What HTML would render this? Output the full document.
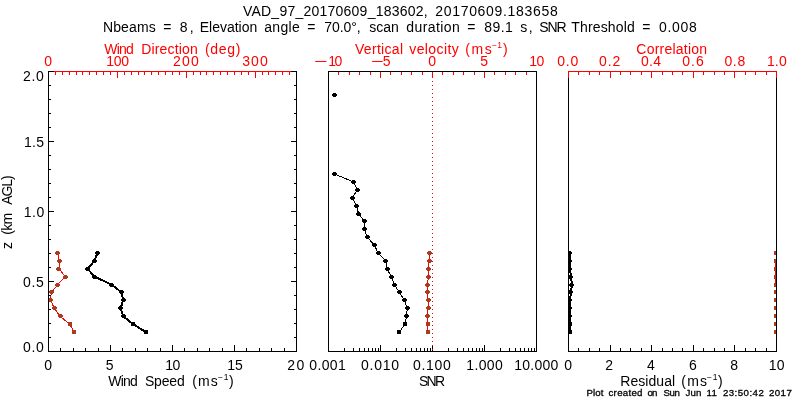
<!DOCTYPE html>
<html><head><meta charset="utf-8"><title>VAD_97_20170609_183602</title>
<style>
html,body{margin:0;padding:0;background:#fff;}
svg{display:block;font-family:"Liberation Sans",sans-serif;}
</style></head><body>
<svg width="800" height="400" viewBox="0 0 800 400" shape-rendering="crispEdges">
<rect x="0" y="0" width="800" height="400" fill="#ffffff"/>
<polyline points="57.50,253.00 59.40,260.90 59.00,268.80 65.40,276.70 57.75,284.60 51.25,292.50 50.60,300.40 54.40,308.30 60.00,316.20 69.75,324.10 74.00,332.00" fill="none" stroke="#ff0000" stroke-width="1" stroke-linejoin="round"/>
<rect x="56" y="251" width="3" height="1" fill="#ab3b1e"/>
<rect x="55" y="252" width="5" height="1" fill="#ab3b1e"/>
<rect x="55" y="253" width="5" height="1" fill="#ab3b1e"/>
<rect x="56" y="254" width="3" height="1" fill="#ab3b1e"/>
<rect x="58" y="259" width="3" height="1" fill="#ab3b1e"/>
<rect x="57" y="260" width="5" height="1" fill="#ab3b1e"/>
<rect x="57" y="261" width="5" height="1" fill="#ab3b1e"/>
<rect x="58" y="262" width="3" height="1" fill="#ab3b1e"/>
<rect x="57" y="267" width="3" height="1" fill="#ab3b1e"/>
<rect x="56" y="268" width="5" height="1" fill="#ab3b1e"/>
<rect x="56" y="269" width="5" height="1" fill="#ab3b1e"/>
<rect x="57" y="270" width="3" height="1" fill="#ab3b1e"/>
<rect x="64" y="275" width="3" height="1" fill="#ab3b1e"/>
<rect x="63" y="276" width="5" height="1" fill="#ab3b1e"/>
<rect x="63" y="277" width="5" height="1" fill="#ab3b1e"/>
<rect x="64" y="278" width="3" height="1" fill="#ab3b1e"/>
<rect x="56" y="283" width="3" height="1" fill="#ab3b1e"/>
<rect x="55" y="284" width="5" height="1" fill="#ab3b1e"/>
<rect x="55" y="285" width="5" height="1" fill="#ab3b1e"/>
<rect x="56" y="286" width="3" height="1" fill="#ab3b1e"/>
<rect x="50" y="290" width="3" height="1" fill="#ab3b1e"/>
<rect x="49" y="291" width="5" height="1" fill="#ab3b1e"/>
<rect x="49" y="292" width="5" height="1" fill="#ab3b1e"/>
<rect x="50" y="293" width="3" height="1" fill="#ab3b1e"/>
<rect x="49" y="298" width="3" height="1" fill="#ab3b1e"/>
<rect x="48" y="299" width="5" height="1" fill="#ab3b1e"/>
<rect x="48" y="300" width="5" height="1" fill="#ab3b1e"/>
<rect x="49" y="301" width="3" height="1" fill="#ab3b1e"/>
<rect x="53" y="306" width="3" height="1" fill="#ab3b1e"/>
<rect x="52" y="307" width="5" height="1" fill="#ab3b1e"/>
<rect x="52" y="308" width="5" height="1" fill="#ab3b1e"/>
<rect x="53" y="309" width="3" height="1" fill="#ab3b1e"/>
<rect x="59" y="314" width="3" height="1" fill="#ab3b1e"/>
<rect x="58" y="315" width="5" height="1" fill="#ab3b1e"/>
<rect x="58" y="316" width="5" height="1" fill="#ab3b1e"/>
<rect x="59" y="317" width="3" height="1" fill="#ab3b1e"/>
<rect x="68" y="322" width="4" height="1" fill="#ab3b1e"/>
<rect x="68" y="323" width="4" height="1" fill="#ab3b1e"/>
<rect x="68" y="324" width="4" height="1" fill="#ab3b1e"/>
<rect x="68" y="325" width="4" height="1" fill="#ab3b1e"/>
<rect x="72" y="330" width="4" height="1" fill="#ab3b1e"/>
<rect x="72" y="331" width="4" height="1" fill="#ab3b1e"/>
<rect x="72" y="332" width="4" height="1" fill="#ab3b1e"/>
<rect x="72" y="333" width="4" height="1" fill="#ab3b1e"/>
<polyline points="97.50,253.00 94.40,260.90 87.50,268.80 94.75,276.70 111.60,284.60 121.70,292.50 123.10,300.40 120.60,308.30 123.10,316.20 133.10,324.10 145.75,332.00" fill="none" stroke="#000000" stroke-width="2" stroke-linejoin="round"/>
<rect x="96" y="251" width="3" height="1" fill="#000000"/>
<rect x="95" y="252" width="5" height="1" fill="#000000"/>
<rect x="95" y="253" width="5" height="1" fill="#000000"/>
<rect x="96" y="254" width="3" height="1" fill="#000000"/>
<rect x="93" y="259" width="3" height="1" fill="#000000"/>
<rect x="92" y="260" width="5" height="1" fill="#000000"/>
<rect x="92" y="261" width="5" height="1" fill="#000000"/>
<rect x="93" y="262" width="3" height="1" fill="#000000"/>
<rect x="86" y="267" width="3" height="1" fill="#000000"/>
<rect x="85" y="268" width="5" height="1" fill="#000000"/>
<rect x="85" y="269" width="5" height="1" fill="#000000"/>
<rect x="86" y="270" width="3" height="1" fill="#000000"/>
<rect x="93" y="275" width="3" height="1" fill="#000000"/>
<rect x="92" y="276" width="5" height="1" fill="#000000"/>
<rect x="92" y="277" width="5" height="1" fill="#000000"/>
<rect x="93" y="278" width="3" height="1" fill="#000000"/>
<rect x="110" y="283" width="3" height="1" fill="#000000"/>
<rect x="109" y="284" width="5" height="1" fill="#000000"/>
<rect x="109" y="285" width="5" height="1" fill="#000000"/>
<rect x="110" y="286" width="3" height="1" fill="#000000"/>
<rect x="120" y="290" width="3" height="1" fill="#000000"/>
<rect x="119" y="291" width="5" height="1" fill="#000000"/>
<rect x="119" y="292" width="5" height="1" fill="#000000"/>
<rect x="120" y="293" width="3" height="1" fill="#000000"/>
<rect x="122" y="298" width="3" height="1" fill="#000000"/>
<rect x="121" y="299" width="5" height="1" fill="#000000"/>
<rect x="121" y="300" width="5" height="1" fill="#000000"/>
<rect x="122" y="301" width="3" height="1" fill="#000000"/>
<rect x="119" y="306" width="3" height="1" fill="#000000"/>
<rect x="118" y="307" width="5" height="1" fill="#000000"/>
<rect x="118" y="308" width="5" height="1" fill="#000000"/>
<rect x="119" y="309" width="3" height="1" fill="#000000"/>
<rect x="122" y="314" width="3" height="1" fill="#000000"/>
<rect x="121" y="315" width="5" height="1" fill="#000000"/>
<rect x="121" y="316" width="5" height="1" fill="#000000"/>
<rect x="122" y="317" width="3" height="1" fill="#000000"/>
<rect x="131" y="322" width="4" height="1" fill="#000000"/>
<rect x="131" y="323" width="4" height="1" fill="#000000"/>
<rect x="131" y="324" width="4" height="1" fill="#000000"/>
<rect x="131" y="325" width="4" height="1" fill="#000000"/>
<rect x="144" y="330" width="4" height="1" fill="#000000"/>
<rect x="144" y="331" width="4" height="1" fill="#000000"/>
<rect x="144" y="332" width="4" height="1" fill="#000000"/>
<rect x="144" y="333" width="4" height="1" fill="#000000"/>
<polyline points="334.60,174.00 353.40,181.90 357.25,189.80 352.50,197.70 356.50,205.60 358.50,213.50 364.40,221.40 364.40,229.30 367.25,237.20 374.40,245.10 378.10,253.00 385.60,260.90 387.10,268.80 391.25,276.70 394.40,284.60 399.40,292.50 404.40,300.40 407.25,308.30 406.50,316.20 405.00,324.10 399.40,332.00" fill="none" stroke="#000000" stroke-width="1" stroke-linejoin="round"/>
<rect x="333" y="172" width="3" height="1" fill="#000000"/>
<rect x="332" y="173" width="5" height="1" fill="#000000"/>
<rect x="332" y="174" width="5" height="1" fill="#000000"/>
<rect x="333" y="175" width="3" height="1" fill="#000000"/>
<rect x="352" y="180" width="3" height="1" fill="#000000"/>
<rect x="351" y="181" width="5" height="1" fill="#000000"/>
<rect x="351" y="182" width="5" height="1" fill="#000000"/>
<rect x="352" y="183" width="3" height="1" fill="#000000"/>
<rect x="356" y="188" width="3" height="1" fill="#000000"/>
<rect x="355" y="189" width="5" height="1" fill="#000000"/>
<rect x="355" y="190" width="5" height="1" fill="#000000"/>
<rect x="356" y="191" width="3" height="1" fill="#000000"/>
<rect x="351" y="196" width="3" height="1" fill="#000000"/>
<rect x="350" y="197" width="5" height="1" fill="#000000"/>
<rect x="350" y="198" width="5" height="1" fill="#000000"/>
<rect x="351" y="199" width="3" height="1" fill="#000000"/>
<rect x="355" y="204" width="3" height="1" fill="#000000"/>
<rect x="354" y="205" width="5" height="1" fill="#000000"/>
<rect x="354" y="206" width="5" height="1" fill="#000000"/>
<rect x="355" y="207" width="3" height="1" fill="#000000"/>
<rect x="357" y="212" width="3" height="1" fill="#000000"/>
<rect x="356" y="213" width="5" height="1" fill="#000000"/>
<rect x="356" y="214" width="5" height="1" fill="#000000"/>
<rect x="357" y="215" width="3" height="1" fill="#000000"/>
<rect x="363" y="219" width="3" height="1" fill="#000000"/>
<rect x="362" y="220" width="5" height="1" fill="#000000"/>
<rect x="362" y="221" width="5" height="1" fill="#000000"/>
<rect x="363" y="222" width="3" height="1" fill="#000000"/>
<rect x="363" y="227" width="3" height="1" fill="#000000"/>
<rect x="362" y="228" width="5" height="1" fill="#000000"/>
<rect x="362" y="229" width="5" height="1" fill="#000000"/>
<rect x="363" y="230" width="3" height="1" fill="#000000"/>
<rect x="366" y="235" width="3" height="1" fill="#000000"/>
<rect x="365" y="236" width="5" height="1" fill="#000000"/>
<rect x="365" y="237" width="5" height="1" fill="#000000"/>
<rect x="366" y="238" width="3" height="1" fill="#000000"/>
<rect x="373" y="243" width="3" height="1" fill="#000000"/>
<rect x="372" y="244" width="5" height="1" fill="#000000"/>
<rect x="372" y="245" width="5" height="1" fill="#000000"/>
<rect x="373" y="246" width="3" height="1" fill="#000000"/>
<rect x="377" y="251" width="3" height="1" fill="#000000"/>
<rect x="376" y="252" width="5" height="1" fill="#000000"/>
<rect x="376" y="253" width="5" height="1" fill="#000000"/>
<rect x="377" y="254" width="3" height="1" fill="#000000"/>
<rect x="384" y="259" width="3" height="1" fill="#000000"/>
<rect x="383" y="260" width="5" height="1" fill="#000000"/>
<rect x="383" y="261" width="5" height="1" fill="#000000"/>
<rect x="384" y="262" width="3" height="1" fill="#000000"/>
<rect x="386" y="267" width="3" height="1" fill="#000000"/>
<rect x="385" y="268" width="5" height="1" fill="#000000"/>
<rect x="385" y="269" width="5" height="1" fill="#000000"/>
<rect x="386" y="270" width="3" height="1" fill="#000000"/>
<rect x="390" y="275" width="3" height="1" fill="#000000"/>
<rect x="389" y="276" width="5" height="1" fill="#000000"/>
<rect x="389" y="277" width="5" height="1" fill="#000000"/>
<rect x="390" y="278" width="3" height="1" fill="#000000"/>
<rect x="393" y="283" width="3" height="1" fill="#000000"/>
<rect x="392" y="284" width="5" height="1" fill="#000000"/>
<rect x="392" y="285" width="5" height="1" fill="#000000"/>
<rect x="393" y="286" width="3" height="1" fill="#000000"/>
<rect x="398" y="290" width="3" height="1" fill="#000000"/>
<rect x="397" y="291" width="5" height="1" fill="#000000"/>
<rect x="397" y="292" width="5" height="1" fill="#000000"/>
<rect x="398" y="293" width="3" height="1" fill="#000000"/>
<rect x="403" y="298" width="3" height="1" fill="#000000"/>
<rect x="402" y="299" width="5" height="1" fill="#000000"/>
<rect x="402" y="300" width="5" height="1" fill="#000000"/>
<rect x="403" y="301" width="3" height="1" fill="#000000"/>
<rect x="406" y="306" width="3" height="1" fill="#000000"/>
<rect x="405" y="307" width="5" height="1" fill="#000000"/>
<rect x="405" y="308" width="5" height="1" fill="#000000"/>
<rect x="406" y="309" width="3" height="1" fill="#000000"/>
<rect x="405" y="314" width="3" height="1" fill="#000000"/>
<rect x="404" y="315" width="5" height="1" fill="#000000"/>
<rect x="404" y="316" width="5" height="1" fill="#000000"/>
<rect x="405" y="317" width="3" height="1" fill="#000000"/>
<rect x="403" y="322" width="4" height="1" fill="#000000"/>
<rect x="403" y="323" width="4" height="1" fill="#000000"/>
<rect x="403" y="324" width="4" height="1" fill="#000000"/>
<rect x="403" y="325" width="4" height="1" fill="#000000"/>
<rect x="397" y="330" width="4" height="1" fill="#000000"/>
<rect x="397" y="331" width="4" height="1" fill="#000000"/>
<rect x="397" y="332" width="4" height="1" fill="#000000"/>
<rect x="397" y="333" width="4" height="1" fill="#000000"/>
<rect x="333" y="93" width="3" height="1" fill="#000000"/>
<rect x="332" y="94" width="5" height="1" fill="#000000"/>
<rect x="332" y="95" width="5" height="1" fill="#000000"/>
<rect x="333" y="96" width="3" height="1" fill="#000000"/>
<polyline points="429.40,253.00 429.10,260.90 428.50,268.80 428.40,276.70 427.50,284.60 427.50,292.50 428.10,300.40 428.10,308.30 427.60,316.20 427.50,324.10 427.50,332.00" fill="none" stroke="#ff0000" stroke-width="1" stroke-linejoin="round"/>
<rect x="428" y="251" width="3" height="1" fill="#ab3b1e"/>
<rect x="427" y="252" width="5" height="1" fill="#ab3b1e"/>
<rect x="427" y="253" width="5" height="1" fill="#ab3b1e"/>
<rect x="428" y="254" width="3" height="1" fill="#ab3b1e"/>
<rect x="428" y="259" width="3" height="1" fill="#ab3b1e"/>
<rect x="427" y="260" width="5" height="1" fill="#ab3b1e"/>
<rect x="427" y="261" width="5" height="1" fill="#ab3b1e"/>
<rect x="428" y="262" width="3" height="1" fill="#ab3b1e"/>
<rect x="427" y="267" width="3" height="1" fill="#ab3b1e"/>
<rect x="426" y="268" width="5" height="1" fill="#ab3b1e"/>
<rect x="426" y="269" width="5" height="1" fill="#ab3b1e"/>
<rect x="427" y="270" width="3" height="1" fill="#ab3b1e"/>
<rect x="427" y="275" width="3" height="1" fill="#ab3b1e"/>
<rect x="426" y="276" width="5" height="1" fill="#ab3b1e"/>
<rect x="426" y="277" width="5" height="1" fill="#ab3b1e"/>
<rect x="427" y="278" width="3" height="1" fill="#ab3b1e"/>
<rect x="426" y="283" width="3" height="1" fill="#ab3b1e"/>
<rect x="425" y="284" width="5" height="1" fill="#ab3b1e"/>
<rect x="425" y="285" width="5" height="1" fill="#ab3b1e"/>
<rect x="426" y="286" width="3" height="1" fill="#ab3b1e"/>
<rect x="426" y="290" width="3" height="1" fill="#ab3b1e"/>
<rect x="425" y="291" width="5" height="1" fill="#ab3b1e"/>
<rect x="425" y="292" width="5" height="1" fill="#ab3b1e"/>
<rect x="426" y="293" width="3" height="1" fill="#ab3b1e"/>
<rect x="427" y="298" width="3" height="1" fill="#ab3b1e"/>
<rect x="426" y="299" width="5" height="1" fill="#ab3b1e"/>
<rect x="426" y="300" width="5" height="1" fill="#ab3b1e"/>
<rect x="427" y="301" width="3" height="1" fill="#ab3b1e"/>
<rect x="427" y="306" width="3" height="1" fill="#ab3b1e"/>
<rect x="426" y="307" width="5" height="1" fill="#ab3b1e"/>
<rect x="426" y="308" width="5" height="1" fill="#ab3b1e"/>
<rect x="427" y="309" width="3" height="1" fill="#ab3b1e"/>
<rect x="426" y="314" width="3" height="1" fill="#ab3b1e"/>
<rect x="425" y="315" width="5" height="1" fill="#ab3b1e"/>
<rect x="425" y="316" width="5" height="1" fill="#ab3b1e"/>
<rect x="426" y="317" width="3" height="1" fill="#ab3b1e"/>
<rect x="426" y="322" width="4" height="1" fill="#ab3b1e"/>
<rect x="426" y="323" width="4" height="1" fill="#ab3b1e"/>
<rect x="426" y="324" width="4" height="1" fill="#ab3b1e"/>
<rect x="426" y="325" width="4" height="1" fill="#ab3b1e"/>
<rect x="426" y="330" width="4" height="1" fill="#ab3b1e"/>
<rect x="426" y="331" width="4" height="1" fill="#ab3b1e"/>
<rect x="426" y="332" width="4" height="1" fill="#ab3b1e"/>
<rect x="426" y="333" width="4" height="1" fill="#ab3b1e"/>
<polyline points="570.00,253.00 570.00,260.90 570.00,268.80 571.00,276.70 572.00,284.60 571.00,292.50 570.00,300.40 570.00,308.30 570.00,316.20 570.00,324.10 570.00,332.00" fill="none" stroke="#000000" stroke-width="2" stroke-linejoin="round"/>
<rect x="568" y="251" width="3" height="1" fill="#000000"/>
<rect x="568" y="252" width="4" height="1" fill="#000000"/>
<rect x="568" y="253" width="4" height="1" fill="#000000"/>
<rect x="568" y="254" width="3" height="1" fill="#000000"/>
<rect x="568" y="259" width="3" height="1" fill="#000000"/>
<rect x="568" y="260" width="4" height="1" fill="#000000"/>
<rect x="568" y="261" width="4" height="1" fill="#000000"/>
<rect x="568" y="262" width="3" height="1" fill="#000000"/>
<rect x="568" y="267" width="3" height="1" fill="#000000"/>
<rect x="568" y="268" width="4" height="1" fill="#000000"/>
<rect x="568" y="269" width="4" height="1" fill="#000000"/>
<rect x="568" y="270" width="3" height="1" fill="#000000"/>
<rect x="569" y="275" width="3" height="1" fill="#000000"/>
<rect x="568" y="276" width="5" height="1" fill="#000000"/>
<rect x="568" y="277" width="5" height="1" fill="#000000"/>
<rect x="569" y="278" width="3" height="1" fill="#000000"/>
<rect x="570" y="283" width="3" height="1" fill="#000000"/>
<rect x="569" y="284" width="5" height="1" fill="#000000"/>
<rect x="569" y="285" width="5" height="1" fill="#000000"/>
<rect x="570" y="286" width="3" height="1" fill="#000000"/>
<rect x="569" y="290" width="3" height="1" fill="#000000"/>
<rect x="568" y="291" width="5" height="1" fill="#000000"/>
<rect x="568" y="292" width="5" height="1" fill="#000000"/>
<rect x="569" y="293" width="3" height="1" fill="#000000"/>
<rect x="568" y="298" width="3" height="1" fill="#000000"/>
<rect x="568" y="299" width="4" height="1" fill="#000000"/>
<rect x="568" y="300" width="4" height="1" fill="#000000"/>
<rect x="568" y="301" width="3" height="1" fill="#000000"/>
<rect x="568" y="306" width="3" height="1" fill="#000000"/>
<rect x="568" y="307" width="4" height="1" fill="#000000"/>
<rect x="568" y="308" width="4" height="1" fill="#000000"/>
<rect x="568" y="309" width="3" height="1" fill="#000000"/>
<rect x="568" y="314" width="3" height="1" fill="#000000"/>
<rect x="568" y="315" width="4" height="1" fill="#000000"/>
<rect x="568" y="316" width="4" height="1" fill="#000000"/>
<rect x="568" y="317" width="3" height="1" fill="#000000"/>
<rect x="568" y="322" width="4" height="1" fill="#000000"/>
<rect x="568" y="323" width="4" height="1" fill="#000000"/>
<rect x="568" y="324" width="4" height="1" fill="#000000"/>
<rect x="568" y="325" width="4" height="1" fill="#000000"/>
<rect x="568" y="330" width="4" height="1" fill="#000000"/>
<rect x="568" y="331" width="4" height="1" fill="#000000"/>
<rect x="568" y="332" width="4" height="1" fill="#000000"/>
<rect x="568" y="333" width="4" height="1" fill="#000000"/>
<polyline points="775.50,260.90 775.50,284.60" fill="none" stroke="#ff0000" stroke-width="1" stroke-linejoin="round"/>
<rect x="774" y="251" width="2" height="1" fill="#ab3b1e"/>
<rect x="774" y="252" width="2" height="1" fill="#ab3b1e"/>
<rect x="774" y="253" width="2" height="1" fill="#ab3b1e"/>
<rect x="774" y="254" width="2" height="1" fill="#ab3b1e"/>
<rect x="774" y="259" width="2" height="1" fill="#ab3b1e"/>
<rect x="774" y="260" width="2" height="1" fill="#ab3b1e"/>
<rect x="774" y="261" width="2" height="1" fill="#ab3b1e"/>
<rect x="774" y="262" width="2" height="1" fill="#ab3b1e"/>
<rect x="774" y="267" width="2" height="1" fill="#ab3b1e"/>
<rect x="774" y="268" width="2" height="1" fill="#ab3b1e"/>
<rect x="774" y="269" width="2" height="1" fill="#ab3b1e"/>
<rect x="774" y="270" width="2" height="1" fill="#ab3b1e"/>
<rect x="774" y="275" width="2" height="1" fill="#ab3b1e"/>
<rect x="774" y="276" width="2" height="1" fill="#ab3b1e"/>
<rect x="774" y="277" width="2" height="1" fill="#ab3b1e"/>
<rect x="774" y="278" width="2" height="1" fill="#ab3b1e"/>
<rect x="774" y="283" width="2" height="1" fill="#ab3b1e"/>
<rect x="774" y="284" width="2" height="1" fill="#ab3b1e"/>
<rect x="774" y="285" width="2" height="1" fill="#ab3b1e"/>
<rect x="774" y="286" width="2" height="1" fill="#ab3b1e"/>
<rect x="774" y="290" width="2" height="1" fill="#ab3b1e"/>
<rect x="774" y="291" width="2" height="1" fill="#ab3b1e"/>
<rect x="774" y="292" width="2" height="1" fill="#ab3b1e"/>
<rect x="774" y="293" width="2" height="1" fill="#ab3b1e"/>
<rect x="774" y="298" width="2" height="1" fill="#ab3b1e"/>
<rect x="774" y="299" width="2" height="1" fill="#ab3b1e"/>
<rect x="774" y="300" width="2" height="1" fill="#ab3b1e"/>
<rect x="774" y="301" width="2" height="1" fill="#ab3b1e"/>
<rect x="774" y="306" width="2" height="1" fill="#ab3b1e"/>
<rect x="774" y="307" width="2" height="1" fill="#ab3b1e"/>
<rect x="774" y="308" width="2" height="1" fill="#ab3b1e"/>
<rect x="774" y="309" width="2" height="1" fill="#ab3b1e"/>
<rect x="774" y="314" width="2" height="1" fill="#ab3b1e"/>
<rect x="774" y="315" width="2" height="1" fill="#ab3b1e"/>
<rect x="774" y="316" width="2" height="1" fill="#ab3b1e"/>
<rect x="774" y="317" width="2" height="1" fill="#ab3b1e"/>
<rect x="774" y="322" width="2" height="1" fill="#ab3b1e"/>
<rect x="774" y="323" width="2" height="1" fill="#ab3b1e"/>
<rect x="774" y="324" width="2" height="1" fill="#ab3b1e"/>
<rect x="774" y="325" width="2" height="1" fill="#ab3b1e"/>
<rect x="774" y="330" width="2" height="1" fill="#ab3b1e"/>
<rect x="774" y="331" width="2" height="1" fill="#ab3b1e"/>
<rect x="774" y="332" width="2" height="1" fill="#ab3b1e"/>
<rect x="774" y="333" width="2" height="1" fill="#ab3b1e"/>
<rect x="48" y="71" width="249" height="1" fill="#ff0000"/>
<rect x="48" y="71" width="1" height="7" fill="#ff0000"/>
<rect x="55" y="71" width="1" height="4" fill="#ff0000"/>
<rect x="62" y="71" width="1" height="4" fill="#ff0000"/>
<rect x="69" y="71" width="1" height="4" fill="#ff0000"/>
<rect x="76" y="71" width="1" height="4" fill="#ff0000"/>
<rect x="82" y="71" width="1" height="4" fill="#ff0000"/>
<rect x="89" y="71" width="1" height="4" fill="#ff0000"/>
<rect x="96" y="71" width="1" height="4" fill="#ff0000"/>
<rect x="103" y="71" width="1" height="4" fill="#ff0000"/>
<rect x="110" y="71" width="1" height="4" fill="#ff0000"/>
<rect x="117" y="71" width="1" height="7" fill="#ff0000"/>
<rect x="124" y="71" width="1" height="4" fill="#ff0000"/>
<rect x="131" y="71" width="1" height="4" fill="#ff0000"/>
<rect x="138" y="71" width="1" height="4" fill="#ff0000"/>
<rect x="144" y="71" width="1" height="4" fill="#ff0000"/>
<rect x="151" y="71" width="1" height="4" fill="#ff0000"/>
<rect x="158" y="71" width="1" height="4" fill="#ff0000"/>
<rect x="165" y="71" width="1" height="4" fill="#ff0000"/>
<rect x="172" y="71" width="1" height="4" fill="#ff0000"/>
<rect x="179" y="71" width="1" height="4" fill="#ff0000"/>
<rect x="186" y="71" width="1" height="7" fill="#ff0000"/>
<rect x="193" y="71" width="1" height="4" fill="#ff0000"/>
<rect x="200" y="71" width="1" height="4" fill="#ff0000"/>
<rect x="206" y="71" width="1" height="4" fill="#ff0000"/>
<rect x="213" y="71" width="1" height="4" fill="#ff0000"/>
<rect x="220" y="71" width="1" height="4" fill="#ff0000"/>
<rect x="227" y="71" width="1" height="4" fill="#ff0000"/>
<rect x="234" y="71" width="1" height="4" fill="#ff0000"/>
<rect x="241" y="71" width="1" height="4" fill="#ff0000"/>
<rect x="248" y="71" width="1" height="4" fill="#ff0000"/>
<rect x="255" y="71" width="1" height="7" fill="#ff0000"/>
<rect x="262" y="71" width="1" height="4" fill="#ff0000"/>
<rect x="268" y="71" width="1" height="4" fill="#ff0000"/>
<rect x="275" y="71" width="1" height="4" fill="#ff0000"/>
<rect x="282" y="71" width="1" height="4" fill="#ff0000"/>
<rect x="289" y="71" width="1" height="4" fill="#ff0000"/>
<rect x="296" y="71" width="1" height="4" fill="#ff0000"/>
<rect x="48" y="71" width="1" height="281" fill="#000000"/>
<rect x="296" y="71" width="1" height="281" fill="#000000"/>
<rect x="48" y="351" width="249" height="1" fill="#000000"/>
<rect x="48" y="351" width="6" height="1" fill="#000000"/>
<rect x="291" y="351" width="6" height="1" fill="#000000"/>
<rect x="48" y="337" width="3" height="1" fill="#000000"/>
<rect x="294" y="337" width="3" height="1" fill="#000000"/>
<rect x="48" y="323" width="3" height="1" fill="#000000"/>
<rect x="294" y="323" width="3" height="1" fill="#000000"/>
<rect x="48" y="309" width="3" height="1" fill="#000000"/>
<rect x="294" y="309" width="3" height="1" fill="#000000"/>
<rect x="48" y="295" width="3" height="1" fill="#000000"/>
<rect x="294" y="295" width="3" height="1" fill="#000000"/>
<rect x="48" y="281" width="6" height="1" fill="#000000"/>
<rect x="291" y="281" width="6" height="1" fill="#000000"/>
<rect x="48" y="267" width="3" height="1" fill="#000000"/>
<rect x="294" y="267" width="3" height="1" fill="#000000"/>
<rect x="48" y="253" width="3" height="1" fill="#000000"/>
<rect x="294" y="253" width="3" height="1" fill="#000000"/>
<rect x="48" y="239" width="3" height="1" fill="#000000"/>
<rect x="294" y="239" width="3" height="1" fill="#000000"/>
<rect x="48" y="225" width="3" height="1" fill="#000000"/>
<rect x="294" y="225" width="3" height="1" fill="#000000"/>
<rect x="48" y="211" width="6" height="1" fill="#000000"/>
<rect x="291" y="211" width="6" height="1" fill="#000000"/>
<rect x="48" y="197" width="3" height="1" fill="#000000"/>
<rect x="294" y="197" width="3" height="1" fill="#000000"/>
<rect x="48" y="183" width="3" height="1" fill="#000000"/>
<rect x="294" y="183" width="3" height="1" fill="#000000"/>
<rect x="48" y="169" width="3" height="1" fill="#000000"/>
<rect x="294" y="169" width="3" height="1" fill="#000000"/>
<rect x="48" y="155" width="3" height="1" fill="#000000"/>
<rect x="294" y="155" width="3" height="1" fill="#000000"/>
<rect x="48" y="141" width="6" height="1" fill="#000000"/>
<rect x="291" y="141" width="6" height="1" fill="#000000"/>
<rect x="48" y="127" width="3" height="1" fill="#000000"/>
<rect x="294" y="127" width="3" height="1" fill="#000000"/>
<rect x="48" y="113" width="3" height="1" fill="#000000"/>
<rect x="294" y="113" width="3" height="1" fill="#000000"/>
<rect x="48" y="99" width="3" height="1" fill="#000000"/>
<rect x="294" y="99" width="3" height="1" fill="#000000"/>
<rect x="48" y="85" width="3" height="1" fill="#000000"/>
<rect x="294" y="85" width="3" height="1" fill="#000000"/>
<rect x="48" y="71" width="6" height="1" fill="#000000"/>
<rect x="291" y="71" width="6" height="1" fill="#000000"/>
<rect x="48" y="345" width="1" height="7" fill="#000000"/>
<rect x="60" y="348" width="1" height="4" fill="#000000"/>
<rect x="73" y="348" width="1" height="4" fill="#000000"/>
<rect x="85" y="348" width="1" height="4" fill="#000000"/>
<rect x="98" y="348" width="1" height="4" fill="#000000"/>
<rect x="110" y="345" width="1" height="7" fill="#000000"/>
<rect x="122" y="348" width="1" height="4" fill="#000000"/>
<rect x="135" y="348" width="1" height="4" fill="#000000"/>
<rect x="147" y="348" width="1" height="4" fill="#000000"/>
<rect x="160" y="348" width="1" height="4" fill="#000000"/>
<rect x="172" y="345" width="1" height="7" fill="#000000"/>
<rect x="184" y="348" width="1" height="4" fill="#000000"/>
<rect x="197" y="348" width="1" height="4" fill="#000000"/>
<rect x="209" y="348" width="1" height="4" fill="#000000"/>
<rect x="222" y="348" width="1" height="4" fill="#000000"/>
<rect x="234" y="345" width="1" height="7" fill="#000000"/>
<rect x="246" y="348" width="1" height="4" fill="#000000"/>
<rect x="259" y="348" width="1" height="4" fill="#000000"/>
<rect x="271" y="348" width="1" height="4" fill="#000000"/>
<rect x="284" y="348" width="1" height="4" fill="#000000"/>
<rect x="296" y="345" width="1" height="7" fill="#000000"/>
<rect x="328" y="71" width="1" height="7" fill="#ff0000"/>
<rect x="338" y="71" width="1" height="4" fill="#ff0000"/>
<rect x="349" y="71" width="1" height="4" fill="#ff0000"/>
<rect x="359" y="71" width="1" height="4" fill="#ff0000"/>
<rect x="370" y="71" width="1" height="4" fill="#ff0000"/>
<rect x="380" y="71" width="1" height="7" fill="#ff0000"/>
<rect x="390" y="71" width="1" height="4" fill="#ff0000"/>
<rect x="401" y="71" width="1" height="4" fill="#ff0000"/>
<rect x="411" y="71" width="1" height="4" fill="#ff0000"/>
<rect x="422" y="71" width="1" height="4" fill="#ff0000"/>
<rect x="432" y="71" width="1" height="7" fill="#ff0000"/>
<rect x="442" y="71" width="1" height="4" fill="#ff0000"/>
<rect x="453" y="71" width="1" height="4" fill="#ff0000"/>
<rect x="463" y="71" width="1" height="4" fill="#ff0000"/>
<rect x="474" y="71" width="1" height="4" fill="#ff0000"/>
<rect x="484" y="71" width="1" height="7" fill="#ff0000"/>
<rect x="494" y="71" width="1" height="4" fill="#ff0000"/>
<rect x="505" y="71" width="1" height="4" fill="#ff0000"/>
<rect x="515" y="71" width="1" height="4" fill="#ff0000"/>
<rect x="526" y="71" width="1" height="4" fill="#ff0000"/>
<rect x="536" y="71" width="1" height="7" fill="#ff0000"/>
<rect x="328" y="71" width="209" height="1" fill="#000000"/>
<rect x="328" y="71" width="1" height="281" fill="#000000"/>
<rect x="536" y="71" width="1" height="281" fill="#000000"/>
<rect x="328" y="351" width="209" height="1" fill="#000000"/>
<rect x="328" y="345" width="1" height="7" fill="#000000"/>
<rect x="344" y="348" width="1" height="4" fill="#000000"/>
<rect x="353" y="348" width="1" height="4" fill="#000000"/>
<rect x="359" y="348" width="1" height="4" fill="#000000"/>
<rect x="364" y="348" width="1" height="4" fill="#000000"/>
<rect x="368" y="348" width="1" height="4" fill="#000000"/>
<rect x="372" y="348" width="1" height="4" fill="#000000"/>
<rect x="375" y="348" width="1" height="4" fill="#000000"/>
<rect x="378" y="348" width="1" height="4" fill="#000000"/>
<rect x="380" y="345" width="1" height="7" fill="#000000"/>
<rect x="396" y="348" width="1" height="4" fill="#000000"/>
<rect x="405" y="348" width="1" height="4" fill="#000000"/>
<rect x="411" y="348" width="1" height="4" fill="#000000"/>
<rect x="416" y="348" width="1" height="4" fill="#000000"/>
<rect x="420" y="348" width="1" height="4" fill="#000000"/>
<rect x="424" y="348" width="1" height="4" fill="#000000"/>
<rect x="427" y="348" width="1" height="4" fill="#000000"/>
<rect x="430" y="348" width="1" height="4" fill="#000000"/>
<rect x="432" y="345" width="1" height="7" fill="#000000"/>
<rect x="448" y="348" width="1" height="4" fill="#000000"/>
<rect x="457" y="348" width="1" height="4" fill="#000000"/>
<rect x="463" y="348" width="1" height="4" fill="#000000"/>
<rect x="468" y="348" width="1" height="4" fill="#000000"/>
<rect x="472" y="348" width="1" height="4" fill="#000000"/>
<rect x="476" y="348" width="1" height="4" fill="#000000"/>
<rect x="479" y="348" width="1" height="4" fill="#000000"/>
<rect x="482" y="348" width="1" height="4" fill="#000000"/>
<rect x="484" y="345" width="1" height="7" fill="#000000"/>
<rect x="500" y="348" width="1" height="4" fill="#000000"/>
<rect x="509" y="348" width="1" height="4" fill="#000000"/>
<rect x="515" y="348" width="1" height="4" fill="#000000"/>
<rect x="520" y="348" width="1" height="4" fill="#000000"/>
<rect x="524" y="348" width="1" height="4" fill="#000000"/>
<rect x="528" y="348" width="1" height="4" fill="#000000"/>
<rect x="531" y="348" width="1" height="4" fill="#000000"/>
<rect x="534" y="348" width="1" height="4" fill="#000000"/>
<rect x="536" y="345" width="1" height="7" fill="#000000"/>
<rect x="568" y="71" width="1" height="281" fill="#000000"/>
<rect x="776" y="71" width="1" height="281" fill="#000000"/>
<rect x="568" y="351" width="209" height="1" fill="#000000"/>
<rect x="568" y="71" width="209" height="1" fill="#ff0000"/>
<rect x="568" y="71" width="1" height="7" fill="#ff0000"/>
<rect x="568" y="345" width="1" height="7" fill="#000000"/>
<rect x="578" y="71" width="1" height="4" fill="#ff0000"/>
<rect x="578" y="348" width="1" height="4" fill="#000000"/>
<rect x="589" y="71" width="1" height="4" fill="#ff0000"/>
<rect x="589" y="348" width="1" height="4" fill="#000000"/>
<rect x="599" y="71" width="1" height="4" fill="#ff0000"/>
<rect x="599" y="348" width="1" height="4" fill="#000000"/>
<rect x="610" y="71" width="1" height="7" fill="#ff0000"/>
<rect x="610" y="345" width="1" height="7" fill="#000000"/>
<rect x="620" y="71" width="1" height="4" fill="#ff0000"/>
<rect x="620" y="348" width="1" height="4" fill="#000000"/>
<rect x="630" y="71" width="1" height="4" fill="#ff0000"/>
<rect x="630" y="348" width="1" height="4" fill="#000000"/>
<rect x="641" y="71" width="1" height="4" fill="#ff0000"/>
<rect x="641" y="348" width="1" height="4" fill="#000000"/>
<rect x="651" y="71" width="1" height="7" fill="#ff0000"/>
<rect x="651" y="345" width="1" height="7" fill="#000000"/>
<rect x="662" y="71" width="1" height="4" fill="#ff0000"/>
<rect x="662" y="348" width="1" height="4" fill="#000000"/>
<rect x="672" y="71" width="1" height="4" fill="#ff0000"/>
<rect x="672" y="348" width="1" height="4" fill="#000000"/>
<rect x="682" y="71" width="1" height="4" fill="#ff0000"/>
<rect x="682" y="348" width="1" height="4" fill="#000000"/>
<rect x="693" y="71" width="1" height="7" fill="#ff0000"/>
<rect x="693" y="345" width="1" height="7" fill="#000000"/>
<rect x="703" y="71" width="1" height="4" fill="#ff0000"/>
<rect x="703" y="348" width="1" height="4" fill="#000000"/>
<rect x="714" y="71" width="1" height="4" fill="#ff0000"/>
<rect x="714" y="348" width="1" height="4" fill="#000000"/>
<rect x="724" y="71" width="1" height="4" fill="#ff0000"/>
<rect x="724" y="348" width="1" height="4" fill="#000000"/>
<rect x="734" y="71" width="1" height="7" fill="#ff0000"/>
<rect x="734" y="345" width="1" height="7" fill="#000000"/>
<rect x="745" y="71" width="1" height="4" fill="#ff0000"/>
<rect x="745" y="348" width="1" height="4" fill="#000000"/>
<rect x="755" y="71" width="1" height="4" fill="#ff0000"/>
<rect x="755" y="348" width="1" height="4" fill="#000000"/>
<rect x="766" y="71" width="1" height="4" fill="#ff0000"/>
<rect x="766" y="348" width="1" height="4" fill="#000000"/>
<rect x="776" y="71" width="1" height="7" fill="#ff0000"/>
<rect x="776" y="345" width="1" height="7" fill="#000000"/>
<rect x="432" y="73" width="1" height="1" fill="#ff0000"/>
<rect x="432" y="77" width="1" height="1" fill="#ff0000"/>
<rect x="432" y="81" width="1" height="1" fill="#ff0000"/>
<rect x="432" y="85" width="1" height="1" fill="#ff0000"/>
<rect x="432" y="89" width="1" height="1" fill="#ff0000"/>
<rect x="432" y="93" width="1" height="1" fill="#ff0000"/>
<rect x="432" y="97" width="1" height="1" fill="#ff0000"/>
<rect x="432" y="101" width="1" height="1" fill="#ff0000"/>
<rect x="432" y="105" width="1" height="1" fill="#ff0000"/>
<rect x="432" y="109" width="1" height="1" fill="#ff0000"/>
<rect x="432" y="113" width="1" height="1" fill="#ff0000"/>
<rect x="432" y="117" width="1" height="1" fill="#ff0000"/>
<rect x="432" y="121" width="1" height="1" fill="#ff0000"/>
<rect x="432" y="125" width="1" height="1" fill="#ff0000"/>
<rect x="432" y="129" width="1" height="1" fill="#ff0000"/>
<rect x="432" y="133" width="1" height="1" fill="#ff0000"/>
<rect x="432" y="137" width="1" height="1" fill="#ff0000"/>
<rect x="432" y="141" width="1" height="1" fill="#ff0000"/>
<rect x="432" y="145" width="1" height="1" fill="#ff0000"/>
<rect x="432" y="149" width="1" height="1" fill="#ff0000"/>
<rect x="432" y="153" width="1" height="1" fill="#ff0000"/>
<rect x="432" y="157" width="1" height="1" fill="#ff0000"/>
<rect x="432" y="161" width="1" height="1" fill="#ff0000"/>
<rect x="432" y="165" width="1" height="1" fill="#ff0000"/>
<rect x="432" y="169" width="1" height="1" fill="#ff0000"/>
<rect x="432" y="173" width="1" height="1" fill="#ff0000"/>
<rect x="432" y="177" width="1" height="1" fill="#ff0000"/>
<rect x="432" y="181" width="1" height="1" fill="#ff0000"/>
<rect x="432" y="185" width="1" height="1" fill="#ff0000"/>
<rect x="432" y="189" width="1" height="1" fill="#ff0000"/>
<rect x="432" y="193" width="1" height="1" fill="#ff0000"/>
<rect x="432" y="197" width="1" height="1" fill="#ff0000"/>
<rect x="432" y="201" width="1" height="1" fill="#ff0000"/>
<rect x="432" y="205" width="1" height="1" fill="#ff0000"/>
<rect x="432" y="209" width="1" height="1" fill="#ff0000"/>
<rect x="432" y="213" width="1" height="1" fill="#ff0000"/>
<rect x="432" y="217" width="1" height="1" fill="#ff0000"/>
<rect x="432" y="221" width="1" height="1" fill="#ff0000"/>
<rect x="432" y="225" width="1" height="1" fill="#ff0000"/>
<rect x="432" y="229" width="1" height="1" fill="#ff0000"/>
<rect x="432" y="233" width="1" height="1" fill="#ff0000"/>
<rect x="432" y="237" width="1" height="1" fill="#ff0000"/>
<rect x="432" y="241" width="1" height="1" fill="#ff0000"/>
<rect x="432" y="245" width="1" height="1" fill="#ff0000"/>
<rect x="432" y="249" width="1" height="1" fill="#ff0000"/>
<rect x="432" y="253" width="1" height="1" fill="#ff0000"/>
<rect x="432" y="257" width="1" height="1" fill="#ff0000"/>
<rect x="432" y="261" width="1" height="1" fill="#ff0000"/>
<rect x="432" y="265" width="1" height="1" fill="#ff0000"/>
<rect x="432" y="269" width="1" height="1" fill="#ff0000"/>
<rect x="432" y="273" width="1" height="1" fill="#ff0000"/>
<rect x="432" y="277" width="1" height="1" fill="#ff0000"/>
<rect x="432" y="281" width="1" height="1" fill="#ff0000"/>
<rect x="432" y="285" width="1" height="1" fill="#ff0000"/>
<rect x="432" y="289" width="1" height="1" fill="#ff0000"/>
<rect x="432" y="293" width="1" height="1" fill="#ff0000"/>
<rect x="432" y="297" width="1" height="1" fill="#ff0000"/>
<rect x="432" y="301" width="1" height="1" fill="#ff0000"/>
<rect x="432" y="305" width="1" height="1" fill="#ff0000"/>
<rect x="432" y="309" width="1" height="1" fill="#ff0000"/>
<rect x="432" y="313" width="1" height="1" fill="#ff0000"/>
<rect x="432" y="317" width="1" height="1" fill="#ff0000"/>
<rect x="432" y="321" width="1" height="1" fill="#ff0000"/>
<rect x="432" y="325" width="1" height="1" fill="#ff0000"/>
<rect x="432" y="329" width="1" height="1" fill="#ff0000"/>
<rect x="432" y="333" width="1" height="1" fill="#ff0000"/>
<rect x="432" y="337" width="1" height="1" fill="#ff0000"/>
<rect x="432" y="341" width="1" height="1" fill="#ff0000"/>
<rect x="432" y="345" width="1" height="1" fill="#ff0000"/>
<rect x="432" y="349" width="1" height="1" fill="#ff0000"/>
<text x="242.90" y="16" fill="#000000" font-size="14" textLength="184.80" lengthAdjust="spacing">VAD_97_20170609_183602,</text>
<text x="435.30" y="16" fill="#000000" font-size="14" textLength="122.40" lengthAdjust="spacing">20170609.183658</text>
<text x="102.90" y="32" fill="#000000" font-size="14" textLength="52.80" lengthAdjust="spacing">Nbeams</text>
<text x="163.30" y="32" fill="#000000" font-size="14" textLength="9.40" lengthAdjust="spacing">=</text>
<text x="179.70" y="32" fill="#000000" font-size="14" textLength="14.00" lengthAdjust="spacing">8,</text>
<text x="199.70" y="32" fill="#000000" font-size="14" textLength="57.50" lengthAdjust="spacing">Elevation</text>
<text x="264.30" y="32" fill="#000000" font-size="14" textLength="35.40" lengthAdjust="spacing">angle</text>
<text x="307.30" y="32" fill="#000000" font-size="14" textLength="9.80" lengthAdjust="spacing">=</text>
<text x="324.30" y="32" fill="#000000" font-size="14" textLength="36.40" lengthAdjust="spacing">70.0°,</text>
<text x="369.30" y="32" fill="#000000" font-size="14" textLength="29.40" lengthAdjust="spacing">scan</text>
<text x="406.30" y="32" fill="#000000" font-size="14" textLength="53.40" lengthAdjust="spacing">duration</text>
<text x="467.30" y="32" fill="#000000" font-size="14" textLength="9.80" lengthAdjust="spacing">=</text>
<text x="484.30" y="32" fill="#000000" font-size="14" textLength="28.40" lengthAdjust="spacing">89.1</text>
<text x="520.30" y="32" fill="#000000" font-size="14" textLength="12.40" lengthAdjust="spacing">s,</text>
<text x="539.30" y="32" fill="#000000" font-size="14" textLength="27.40" lengthAdjust="spacing">SNR</text>
<text x="571.30" y="32" fill="#000000" font-size="14" textLength="63.40" lengthAdjust="spacing">Threshold</text>
<text x="642.30" y="32" fill="#000000" font-size="14" textLength="9.40" lengthAdjust="spacing">=</text>
<text x="658.90" y="32" fill="#000000" font-size="14" textLength="37.80" lengthAdjust="spacing">0.008</text>
<text x="104.30" y="54" fill="#ff0000" font-size="14" textLength="29.40" lengthAdjust="spacing">Wind</text>
<text x="141.30" y="54" fill="#ff0000" font-size="14" textLength="56.40" lengthAdjust="spacing">Direction</text>
<text x="204.90" y="54" fill="#ff0000" font-size="14" textLength="35.40" lengthAdjust="spacing">(deg)</text>
<text x="44.30" y="66" fill="#ff0000" font-size="14" textLength="8.40" lengthAdjust="spacing">0</text>
<text x="106.30" y="66" fill="#ff0000" font-size="14" textLength="22.80" lengthAdjust="spacing">100</text>
<text x="172.90" y="66" fill="#ff0000" font-size="14" textLength="25.80" lengthAdjust="spacing">200</text>
<text x="242.30" y="66" fill="#ff0000" font-size="14" textLength="25.40" lengthAdjust="spacing">300</text>
<text x="354.90" y="54" fill="#ff0000" font-size="14" textLength="48.20" lengthAdjust="spacing">Vertical</text>
<text x="409.30" y="54" fill="#ff0000" font-size="14" textLength="49.40" lengthAdjust="spacing">velocity</text>
<text x="465.30" y="54" fill="#ff0000" font-size="14" textLength="26.40" lengthAdjust="spacing">(ms</text>
<text x="502.90" y="54" fill="#ff0000" font-size="14" textLength="6.20" lengthAdjust="spacing">)</text>
<text x="492.00" y="48" fill="#ff0000" font-size="8.5" textLength="10.00" lengthAdjust="spacing">−1</text>
<text x="313.81" y="66" fill="#ff0000" font-size="14" textLength="13.38" lengthAdjust="spacingAndGlyphs">−</text>
<text x="370.87" y="66" fill="#ff0000" font-size="14" textLength="12.65" lengthAdjust="spacingAndGlyphs">−</text>
<text x="328.30" y="66" fill="#ff0000" font-size="14" textLength="14.00" lengthAdjust="spacing">10</text>
<text x="382.70" y="66" fill="#ff0000" font-size="14" textLength="7.00" lengthAdjust="spacing">5</text>
<text x="428.30" y="66" fill="#ff0000" font-size="14" textLength="8.80" lengthAdjust="spacing">0</text>
<text x="480.30" y="66" fill="#ff0000" font-size="14" textLength="8.00" lengthAdjust="spacing">5</text>
<text x="529.30" y="66" fill="#ff0000" font-size="14" textLength="15.00" lengthAdjust="spacing">10</text>
<text x="636.30" y="54" fill="#ff0000" font-size="14" textLength="70.80" lengthAdjust="spacing">Correlation</text>
<text x="557.30" y="66" fill="#ff0000" font-size="14" textLength="21.00" lengthAdjust="spacing">0.0</text>
<text x="598.90" y="66" fill="#ff0000" font-size="14" textLength="21.40" lengthAdjust="spacing">0.2</text>
<text x="640.90" y="66" fill="#ff0000" font-size="14" textLength="20.20" lengthAdjust="spacing">0.4</text>
<text x="682.30" y="66" fill="#ff0000" font-size="14" textLength="21.40" lengthAdjust="spacing">0.6</text>
<text x="724.40" y="66" fill="#ff0000" font-size="14" textLength="20.80" lengthAdjust="spacing">0.8</text>
<text x="766.90" y="66" fill="#ff0000" font-size="14" textLength="19.80" lengthAdjust="spacing">1.0</text>
<text x="23.10" y="81" fill="#000000" font-size="14" textLength="20.80" lengthAdjust="spacing">2.0</text>
<text x="24.05" y="147" fill="#000000" font-size="14" textLength="19.90" lengthAdjust="spacing">1.5</text>
<text x="23.80" y="217" fill="#000000" font-size="14" textLength="20.40" lengthAdjust="spacing">1.0</text>
<text x="23.10" y="287" fill="#000000" font-size="14" textLength="20.80" lengthAdjust="spacing">0.5</text>
<text x="23.10" y="352" fill="#000000" font-size="14" textLength="20.80" lengthAdjust="spacing">0.0</text>
<text transform="translate(12,249.00) rotate(-90)" x="0" y="0" fill="#000000" font-size="14" textLength="6.30" lengthAdjust="spacing">z</text>
<text transform="translate(12,234.70) rotate(-90)" x="0" y="0" fill="#000000" font-size="14" textLength="21.80" lengthAdjust="spacing">(km</text>
<text transform="translate(12,204.70) rotate(-90)" x="0" y="0" fill="#000000" font-size="14" textLength="29.40" lengthAdjust="spacing">AGL)</text>
<text x="44.30" y="370" fill="#000000" font-size="14" textLength="8.00" lengthAdjust="spacing">0</text>
<text x="105.70" y="370" fill="#000000" font-size="14" textLength="8.60" lengthAdjust="spacing">5</text>
<text x="165.30" y="370" fill="#000000" font-size="14" textLength="15.00" lengthAdjust="spacing">10</text>
<text x="227.30" y="370" fill="#000000" font-size="14" textLength="15.40" lengthAdjust="spacing">15</text>
<text x="287.30" y="370" fill="#000000" font-size="14" textLength="17.00" lengthAdjust="spacing">20</text>
<text x="108.30" y="386" fill="#000000" font-size="14" textLength="29.40" lengthAdjust="spacing">Wind</text>
<text x="144.90" y="386" fill="#000000" font-size="14" textLength="39.80" lengthAdjust="spacing">Speed</text>
<text x="192.30" y="386" fill="#000000" font-size="14" textLength="25.40" lengthAdjust="spacing">(ms</text>
<text x="228.90" y="386" fill="#000000" font-size="14" textLength="6.20" lengthAdjust="spacing">)</text>
<text x="218.00" y="380" fill="#000000" font-size="8.5" textLength="10.40" lengthAdjust="spacing">−1</text>
<text x="309.30" y="370" fill="#000000" font-size="14" textLength="36.40" lengthAdjust="spacing">0.001</text>
<text x="360.90" y="370" fill="#000000" font-size="14" textLength="38.20" lengthAdjust="spacing">0.010</text>
<text x="412.90" y="370" fill="#000000" font-size="14" textLength="37.80" lengthAdjust="spacing">0.100</text>
<text x="466.30" y="370" fill="#000000" font-size="14" textLength="36.40" lengthAdjust="spacing">1.000</text>
<text x="514.30" y="370" fill="#000000" font-size="14" textLength="44.00" lengthAdjust="spacing">10.000</text>
<text x="418.90" y="386" fill="#000000" font-size="14" textLength="26.20" lengthAdjust="spacing">SNR</text>
<text x="564.30" y="370" fill="#000000" font-size="14" textLength="8.40" lengthAdjust="spacing">0</text>
<text x="605.30" y="370" fill="#000000" font-size="14" textLength="9.00" lengthAdjust="spacing">2</text>
<text x="646.90" y="370" fill="#000000" font-size="14" textLength="8.80" lengthAdjust="spacing">4</text>
<text x="688.90" y="370" fill="#000000" font-size="14" textLength="8.20" lengthAdjust="spacing">6</text>
<text x="730.20" y="370" fill="#000000" font-size="14" textLength="8.40" lengthAdjust="spacing">8</text>
<text x="768.70" y="370" fill="#000000" font-size="14" textLength="15.90" lengthAdjust="spacing">10</text>
<text x="620.30" y="386" fill="#000000" font-size="14" textLength="54.80" lengthAdjust="spacing">Residual</text>
<text x="681.30" y="386" fill="#000000" font-size="14" textLength="25.80" lengthAdjust="spacing">(ms</text>
<text x="717.90" y="386" fill="#000000" font-size="14" textLength="5.80" lengthAdjust="spacing">)</text>
<text x="707.10" y="380" fill="#000000" font-size="8.5" textLength="10.30" lengthAdjust="spacing">−1</text>
<text x="586.50" y="396" fill="#000000" font-size="9.7" textLength="17.00" lengthAdjust="spacing" stroke="#000" stroke-width="0.3">Plot</text>
<text x="608.50" y="396" fill="#000000" font-size="9.7" textLength="34.00" lengthAdjust="spacing" stroke="#000" stroke-width="0.3">created</text>
<text x="647.50" y="396" fill="#000000" font-size="9.7" textLength="10.00" lengthAdjust="spacing" stroke="#000" stroke-width="0.3">on</text>
<text x="663.50" y="396" fill="#000000" font-size="9.7" textLength="16.50" lengthAdjust="spacing" stroke="#000" stroke-width="0.3">Sun</text>
<text x="685.50" y="396" fill="#000000" font-size="9.7" textLength="16.00" lengthAdjust="spacing" stroke="#000" stroke-width="0.3">Jun</text>
<text x="706.50" y="396" fill="#000000" font-size="9.7" textLength="10.40" lengthAdjust="spacing" stroke="#000" stroke-width="0.3">11</text>
<text x="722.90" y="396" fill="#000000" font-size="9.7" textLength="40.90" lengthAdjust="spacing" stroke="#000" stroke-width="0.3">23:50:42</text>
<text x="768.90" y="396" fill="#000000" font-size="9.7" textLength="22.90" lengthAdjust="spacing" stroke="#000" stroke-width="0.3">2017</text>
</svg>
</body></html>
